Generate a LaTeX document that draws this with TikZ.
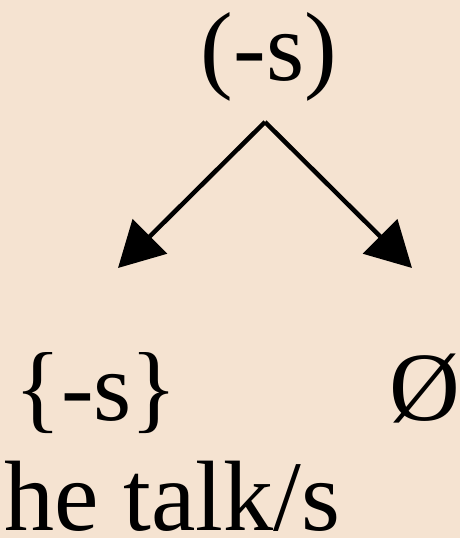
\documentclass[tikz,border=0pt]{standalone}
\usepackage{fontspec}
\setmainfont{Liberation Serif}
\usetikzlibrary{arrows.meta}
\definecolor{bg}{RGB}{245,227,209}
\begin{document}
\begin{tikzpicture}[x=1pt,y=1pt,
  lbl/.style={inner sep=0pt,font=\fontsize{98}{98}\selectfont},
  arr/.style={line width=4.5pt,-{Triangle[length=45pt,width=48pt]}}]
\fill[bg] (0,0) rectangle (460,-538);
\useasboundingbox (0,0) rectangle (460,-538);
\node[lbl,anchor=base] (top) at (269,-80) {(-s)};
\coordinate (apex) at (265,-122);
\coordinate (tipL) at (118,-268);
\coordinate (tipR) at (412,-268);
\node[lbl,anchor=base west] (pl) at (14,-420) {\{-s\kern-2pt\}};
\node[lbl,anchor=base] (zero) at (425,-420) {Ø};
\node[lbl,anchor=base west,text depth=0pt,font=\fontsize{100}{100}\selectfont] (ex) at (4,-530) {he talk/s};
\draw[arr] (apex) -- (tipL);
\draw[arr] (apex) -- (tipR);
\end{tikzpicture}
\end{document}
